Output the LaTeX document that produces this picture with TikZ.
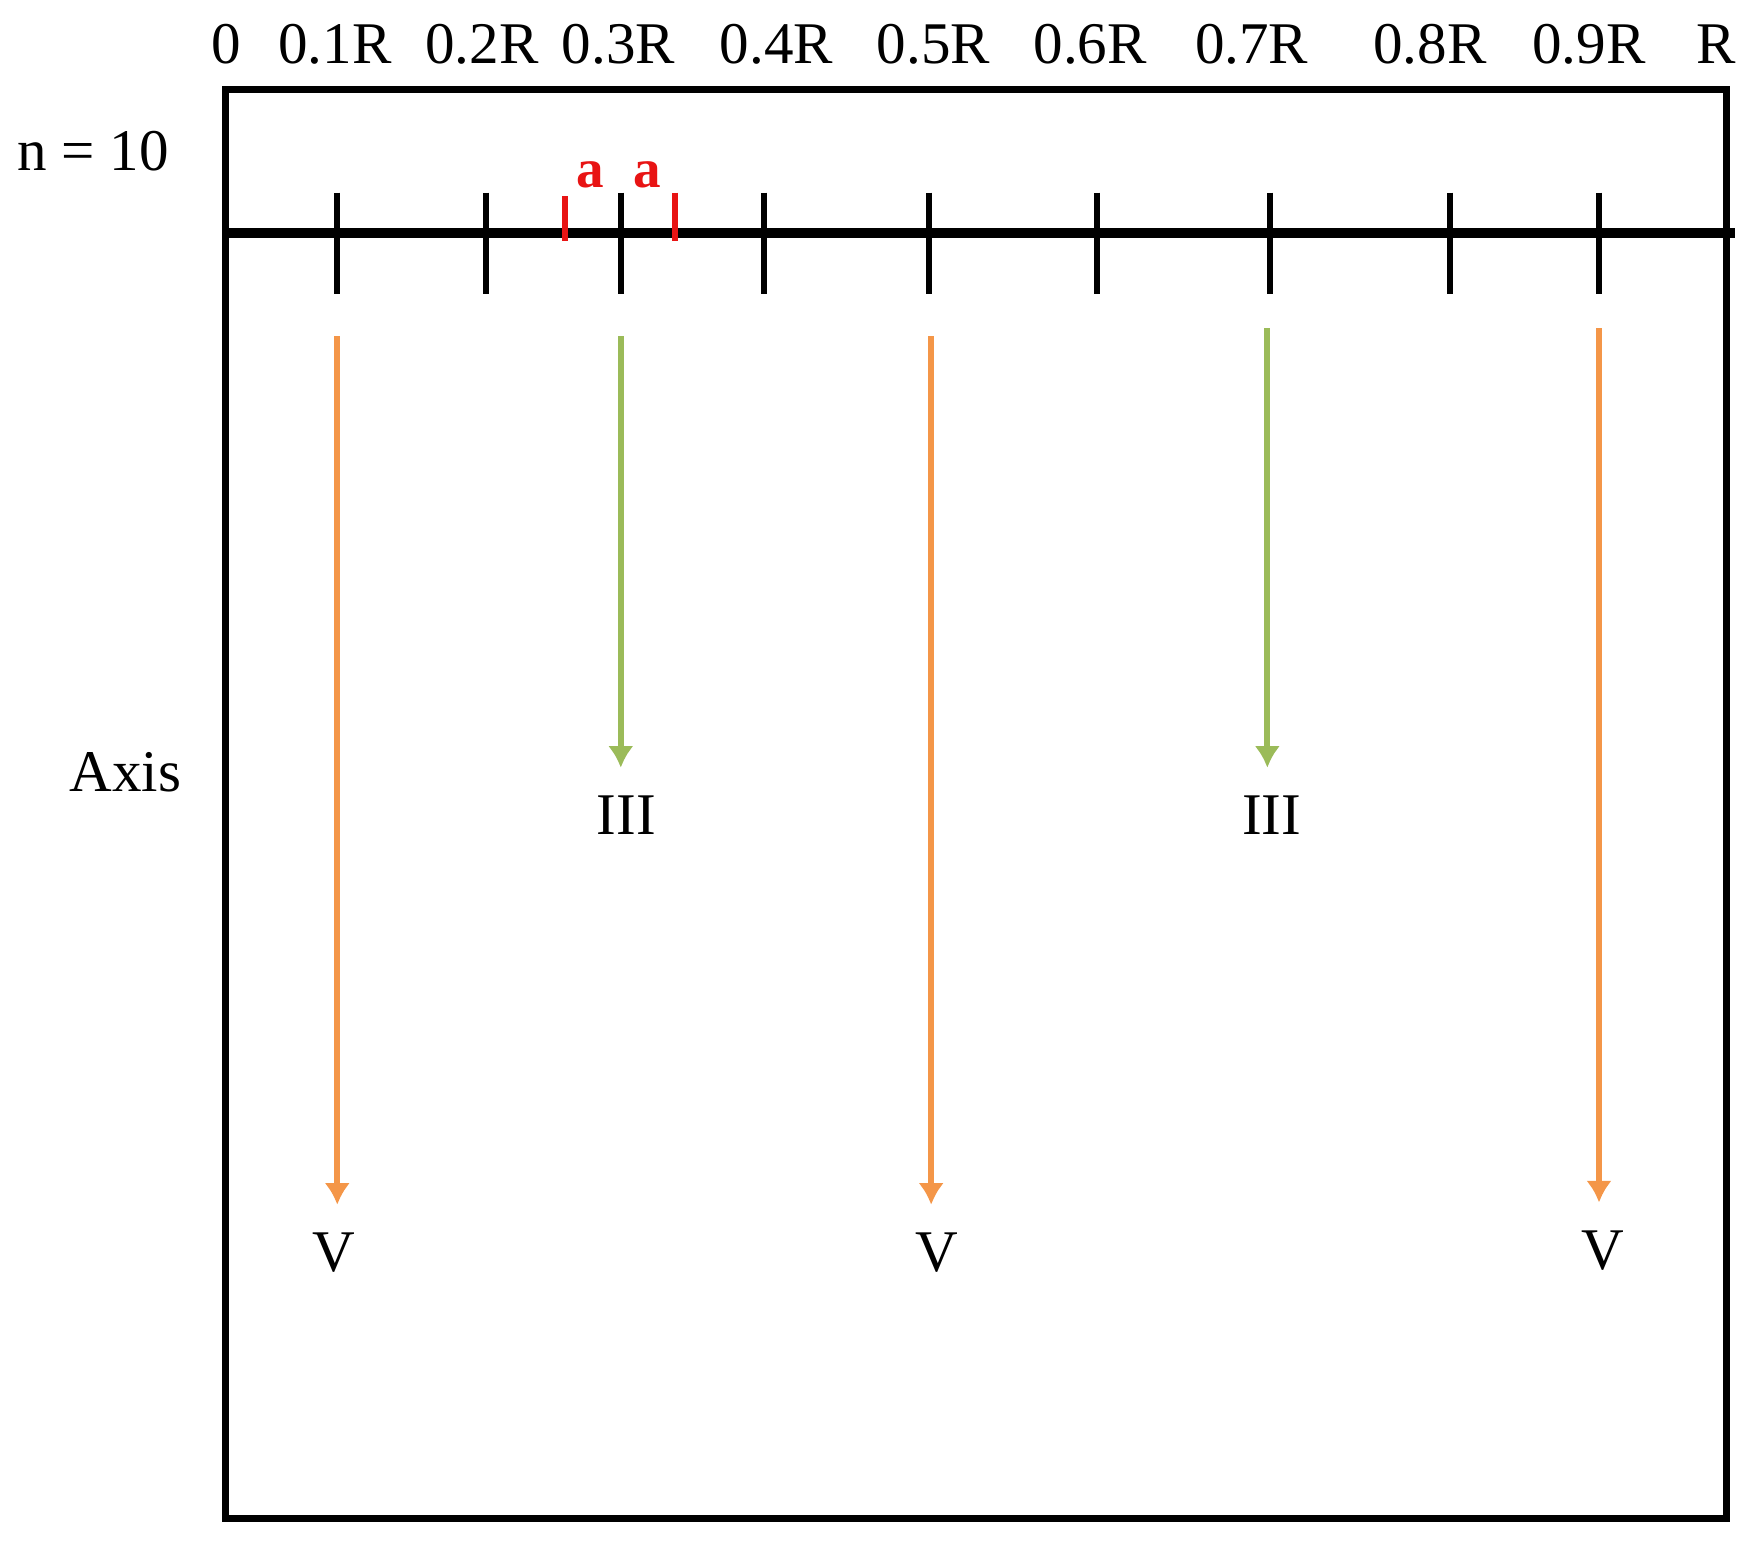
\documentclass[tikz,border=0pt]{standalone}
\usepackage{fontspec}
\setmainfont{Liberation Serif}
\usetikzlibrary{arrows.meta,positioning}
\definecolor{linecolor}{RGB}{0,0,0}
\definecolor{markcolor}{RGB}{232,20,20}
\definecolor{greenarrowcolor}{RGB}{155,187,89}
\definecolor{orangearrowcolor}{RGB}{244,150,72}
\tikzset{
lbltext/.style={
  font=\fontsize{30}{36}\selectfont,
  anchor=base,
  inner sep=0pt,
  text=linecolor
},
marklabel/.style={
  lbltext,
  font=\bfseries\fontsize{28}{34}\selectfont,
  text=markcolor
},
frameline/.style={
  draw=linecolor,
  line width=3.4pt
},
axisline/.style={
  draw=linecolor,
  line width=4.8pt
},
tickline/.style={
  draw=linecolor,
  line width=3pt
},
redtick/.style={
  draw=markcolor,
  line width=3pt
},
arrow/.style={
  -{Latex[length=11pt,width=13pt]},
  line width=3pt,
  shorten >=0.5cm
},
greenarrow/.style={
  arrow,
  draw=greenarrowcolor,
  fill=greenarrowcolor
},
orangearrow/.style={
  arrow,
  draw=orangearrowcolor,
  fill=orangearrowcolor
}
}
\begin{document}
\begin{tikzpicture}[x=0.02cm,y=-0.02cm]
\useasboundingbox (0,0) rectangle (1568,1388);
\draw[frameline] (201,80) rectangle (1541,1355);
\draw[axisline] (201,208) -- (1548,208);
\foreach \x in {301,434,554,682,829,979,1133,1294,1427}
  \draw[tickline] (\x,172) -- (\x,262);
\draw[redtick] (504,175) -- (504,215);
\draw[redtick] (602,172) -- (602,215);
\foreach \x/\lbl in {202/0,299/0.1R,430/0.2R,552/0.3R,693/0.4R,833/0.5R,973/0.6R,1117/0.7R,1276/0.8R,1418/0.9R,1532/R}
  \node[lbltext] at (\x,57) {\lbl};
\node[marklabel] (a1) at (527,167) {a};
\node[marklabel] (a2) at (578,167) {a};
\node[lbltext] (nlabel) at (83,152) {n = 10};
\node[lbltext] (axislabel) at (112,706) {Axis};
\node[lbltext] (iii1) at (559,745) {III};
\node[lbltext] (iii2) at (1135,745) {III};
\node[lbltext] (v1) at (298,1135) {V};
\node[lbltext] (v2) at (836,1135) {V};
\node[lbltext] (v3) at (1430,1133) {V};
\coordinate (g1) at (554,300);
\coordinate (g2) at (1131,293);
\coordinate (o1) at (301,300);
\coordinate (o2) at (831,300);
\coordinate (o3) at (1427,293);
\draw[greenarrow] (g1) -- (g1 |- iii1.north);
\draw[greenarrow] (g2) -- (g2 |- iii2.north);
\draw[orangearrow] (o1) -- (o1 |- v1.north);
\draw[orangearrow] (o2) -- (o2 |- v2.north);
\draw[orangearrow] (o3) -- (o3 |- v3.north);
\end{tikzpicture}
\end{document}
